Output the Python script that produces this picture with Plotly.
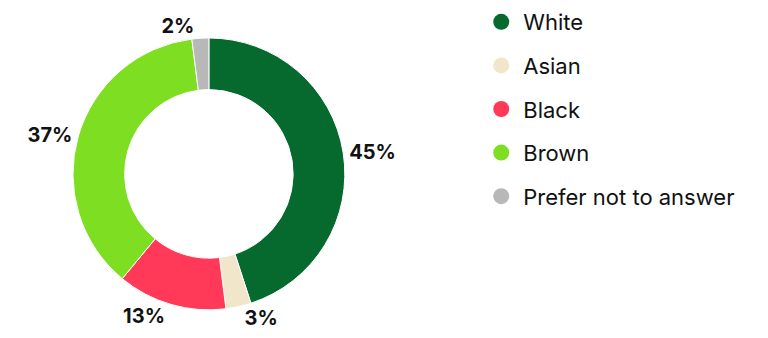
import plotly.graph_objects as go

categories = ["White", "Asian", "Black", "Brown", "Prefer not to answer"]
values = [45, 3, 13, 37, 2]
colors = ["#066a2e", "#f1e5ca", "#ff3957", "#7ede22", "#b8b8b8"]

fig = go.Figure()
fig.add_trace(go.Pie(
    labels=categories, values=values, sort=False, direction="clockwise",
    rotation=0, hole=0.62,
    marker=dict(colors=colors, line=dict(color="white", width=1)),
    texttemplate="%{value}%", textposition="outside",
    textfont=dict(family="Inter", size=20, color="#111111", weight="bold"),
    domain=dict(x=[0.095, 0.449], y=[0.083, 0.888]),
    showlegend=False, hoverinfo="label+percent",
))
for i, (c, col) in enumerate(zip(categories, colors)):
    fig.add_trace(go.Scatter(
        x=[None], y=[None], mode="markers", name=c,
        marker=dict(symbol="circle", size=18, color=col),
        legendgroup=c, showlegend=True,
    ))

fig.update_layout(
    width=768, height=338, margin=dict(l=0, r=0, t=0, b=0),
    paper_bgcolor="white", plot_bgcolor="white",
    xaxis=dict(visible=False), yaxis=dict(visible=False),
    legend=dict(x=0.624, y=0.997, xanchor="left", yanchor="top",
                font=dict(family="Inter", size=22, color="#111111"),
                traceorder="grouped", tracegroupgap=12, itemwidth=34),
)
fig.write_html("out.html")
